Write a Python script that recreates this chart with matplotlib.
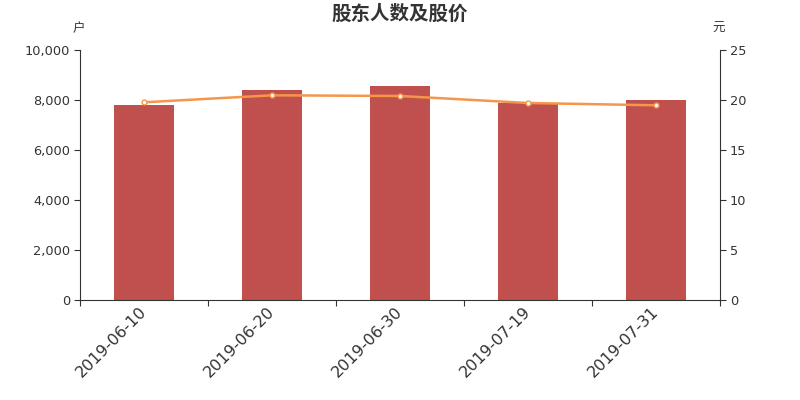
import matplotlib
matplotlib.use("Agg")
import matplotlib.pyplot as plt
import matplotlib.transforms as mtransforms
import numpy as np

plt.rcParams['font.family'] = ['Noto Sans CJK SC', 'DejaVu Sans']

dates = ["2019-06-10", "2019-06-20", "2019-06-30", "2019-07-19", "2019-07-31"]
holders = [7790, 8400, 8560, 7890, 8020]
prices = [19.77, 20.47, 20.40, 19.70, 19.47]

fig = plt.figure(figsize=(8, 4), dpi=100)
ax = fig.add_axes([0.1, 0.25, 0.8, 0.625])
x = np.arange(len(dates))
ax.bar(x, holders, width=0.47, color="#c0504d", zorder=2)
ax.set_xlim(-0.5, len(dates) - 0.5)
ax.set_ylim(0, 10000)
ax.set_yticks(np.arange(0, 10001, 2000))
ax.set_yticklabels([f"{v:,}" for v in range(0, 10001, 2000)], fontsize=9.3, color="#333333", family="DejaVu Sans")
ax.set_xticks(np.arange(-0.5, len(dates), 1.0))
ax.set_xticklabels([])
ax.set_xticks(x, minor=True)
ax.set_xticklabels(dates, minor=True, rotation=45, ha="right", rotation_mode="anchor",
                   fontsize=11.5, color="#333333", family="DejaVu Sans")
ax.tick_params(axis="x", which="minor", length=0, pad=6)
ax.tick_params(axis="x", which="major", length=4, color="#333333")
ax.tick_params(axis="y", length=4, pad=3, color="#333333")
offset = mtransforms.ScaledTranslation(-0.05, 0.04, fig.dpi_scale_trans)
for lab in ax.get_xticklabels(minor=True):
    lab.set_transform(lab.get_transform() + offset)
for s in ["top", "right"]:
    ax.spines[s].set_visible(False)
ax.spines["left"].set_color("#333333")
ax.spines["bottom"].set_color("#333333")

ax2 = ax.twinx()
ax2.plot(x, prices, color="#f5964a", lw=1.8, marker="o", markersize=3.5,
         markerfacecolor="white", markeredgecolor="#f5964a", markeredgewidth=1, zorder=3)
ax2.set_ylim(0, 25)
ax2.set_yticks(np.arange(0, 26, 5))
ax2.set_yticklabels([str(v) for v in range(0, 26, 5)], fontsize=9.3, color="#333333", family="DejaVu Sans")
ax2.tick_params(axis="y", length=4, pad=3, color="#333333")
for s in ["top", "left", "bottom"]:
    ax2.spines[s].set_visible(False)
ax2.spines["right"].set_color("#333333")

fig.text(0.5, 0.965, "股东人数及股价", ha="center", va="center", fontsize=14, fontweight="bold", color="#333333")
fig.text(0.098, 0.928, "户", ha="center", va="center", fontsize=9, color="#333333")
fig.text(0.898, 0.928, "元", ha="center", va="center", fontsize=9, color="#333333")

fig.savefig("out.png", dpi=100)
